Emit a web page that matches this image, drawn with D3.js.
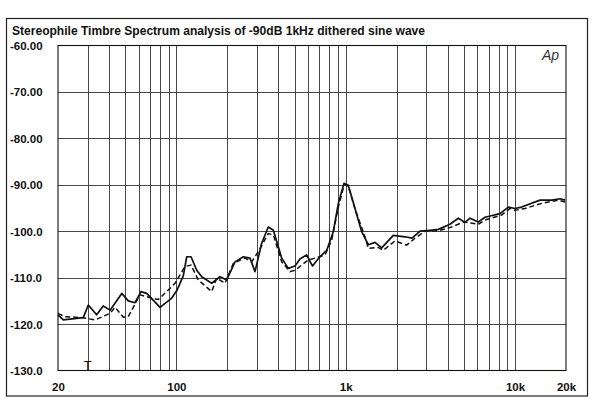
<!DOCTYPE html>
<html>
<head>
<meta charset="utf-8">
<script src="https://cdn.jsdelivr.net/npm/d3@7"></script>
<style>
  body { margin: 0; background: #fff; }
  svg { display: block; }
  .lbl { font-family: "Liberation Sans", Arial, sans-serif; font-weight: bold; fill: #111; }
  .grid line { stroke: #333; stroke-width: 0.9; }
</style>
</head>
<body>
<script>
// solid trace (frequency Hz, level dB)
var solidFreq = [20, 21.5, 28.2, 30.2, 33.8, 37.0, 40.6, 47.6, 52.0, 57.0, 61.8, 66.8, 80.1, 93.9, 100.9,
  109.9, 115.1, 122.1, 131.9, 141.2, 161.7, 181.0, 198.3, 222, 248.6, 272.2, 291.4, 319, 349, 374,
  419, 458, 502, 537, 588, 637, 696, 773, 845, 905, 977, 1036, 1135, 1243, 1360, 1489, 1632,
  1910, 2240, 2464, 2746, 3146, 3524, 4130, 4624, 5066, 5422, 6070, 6650, 8154, 9126, 9998,
  10950, 14050, 16470, 18440, 19730];
var solidDb = [-118.0, -119.1, -118.6, -115.9, -118.0, -116.1, -117.0, -113.4, -115.0, -115.4, -113.0, -113.4, -116.4, -114.4, -112.7,
  -109.6, -105.5, -105.5, -108.4, -109.8, -111.2, -109.8, -110.5, -106.6, -105.5, -105.8, -108.7, -102.6, -99.1, -99.8,
  -105.8, -108.0, -107.5, -106.0, -105.1, -107.5, -105.7, -104.1, -100.1, -94.0, -89.7, -90.1, -95.1, -100.1, -102.9, -102.4, -103.6,
  -100.9, -101.2, -101.5, -100.0, -99.8, -99.6, -98.5, -97.2, -98.1, -97.2, -98.0, -97.0, -96.2, -94.8, -95.1,
  -94.8, -93.3, -93.3, -93.0, -93.3];

// dashed trace
var dashFreq = [20, 22.0, 27.6, 33.1, 40.6, 43.4, 48.6, 52.0, 61.0, 71.5, 78.2, 87.7, 98.2, 112.5, 122.1,
  134.8, 161.7, 173.1, 193.8, 217, 254.4, 278.6, 304.8, 349, 374, 419, 469, 502, 601, 659, 755, 827,
  905, 981, 1036, 1135, 1300, 1360, 1558, 1668, 1955, 2292, 2566, 2942, 3524, 4227, 4950, 6070,
  6650, 8344, 9340, 9998, 11450, 14370, 18020, 19730];
var dashDb = [-117.7, -118.4, -118.6, -119.1, -117.7, -116.4, -118.5, -118.4, -113.7, -114.4, -114.7, -113.0, -111.2, -107.6, -107.3,
  -110.5, -113.0, -110.1, -111.2, -106.9, -105.8, -106.6, -104.4, -100.5, -100.8, -106.6, -108.7, -108.4, -106.2, -105.8, -105.1, -101.9,
  -94.8, -89.9, -90.3, -95.2, -101.2, -103.7, -103.5, -104.1, -102.1, -103.0, -101.5, -100.0, -99.9, -99.1, -98.0, -98.5,
  -97.6, -96.5, -95.1, -95.5, -95.1, -94.0, -93.3, -93.7];

var yTicks = [-60, -70, -80, -90, -100, -110, -120, -130];
var yTickLabels = ["-60.00", "-70.00", "-80.00", "-90.00", "-100.0", "-110.0", "-120.0", "-130.0"];
var xTicks = [20, 100, 1000, 10000, 20000];
var xTickLabels = ["20", "100", "1k", "10k", "20k"];
var xGrid = [30, 40, 50, 60, 70, 80, 90, 100, 200, 300, 400, 500, 600, 700, 800, 900, 1000,
  2000, 3000, 4000, 5000, 6000, 7000, 8000, 9000, 10000];

var width = 600, height = 406;
var plotL = 58, plotR = 566, plotT = 45.5, plotB = 370.5;

var svg = d3.select('body').append('svg')
    .attr('width', width)
    .attr('height', height);

// outer frame
svg.append('rect')
    .attr('x', 6.5).attr('y', 18.5)
    .attr('width', 581).attr('height', 377.5)
    .attr('fill', 'none').attr('stroke', '#222').attr('stroke-width', 1.2);

svg.append('text')
    .attr('class', 'lbl')
    .attr('x', 12).attr('y', 35)
    .attr('textLength', 413)
    .attr('lengthAdjust', 'spacingAndGlyphs')
    .style('font-size', '13px')
    .text('Stereophile  Timbre Spectrum analysis of -90dB 1kHz dithered sine wave');

var x = d3.scaleLog().domain([20, 20000]).range([plotL, plotR]);
var y = d3.scaleLinear().domain([-130, -60]).range([plotB, plotT]);

// grid
var grid = svg.append('g').attr('class', 'grid');
grid.selectAll('.vg').data(xGrid).enter().append('line')
    .attr('x1', function(d) { return Math.round(x(d)) + 0.5; })
    .attr('x2', function(d) { return Math.round(x(d)) + 0.5; })
    .attr('y1', plotT).attr('y2', plotB);
grid.selectAll('.hg').data(yTicks.slice(1, -1)).enter().append('line')
    .attr('x1', plotL).attr('x2', plotR)
    .attr('y1', function(d) { return Math.round(y(d)) + 0.5; })
    .attr('y2', function(d) { return Math.round(y(d)) + 0.5; });

svg.append('rect')
    .attr('x', plotL).attr('y', plotT)
    .attr('width', plotR - plotL).attr('height', plotB - plotT)
    .attr('fill', 'none').attr('stroke', '#111').attr('stroke-width', 1.1);

// axes (labels only)
var yAxis = svg.append('g')
    .call(d3.axisLeft(y).tickValues(yTicks).tickSize(0)
      .tickFormat(function(d, i) { return yTickLabels[i]; }));
yAxis.select('.domain').remove();
yAxis.selectAll('text')
    .attr('class', 'lbl')
    .attr('x', 10).attr('dy', '0.35em')
    .attr('text-anchor', 'start')
    .style('font-size', '11.5px');

var xAxis = svg.append('g')
    .attr('transform', 'translate(0,' + plotB + ')')
    .call(d3.axisBottom(x).tickValues(xTicks).tickSize(0)
      .tickFormat(function(d, i) { return xTickLabels[i]; }));
xAxis.select('.domain').remove();
xAxis.selectAll('text')
    .attr('class', 'lbl')
    .attr('y', 20.5).attr('dy', 0)
    .style('font-size', '11.5px');

// traces
var line = d3.line()
    .x(function(d) { return x(d[0]); })
    .y(function(d) { return y(d[1]); });

svg.append('path')
    .datum(d3.zip(dashFreq, dashDb))
    .attr('d', line)
    .attr('fill', 'none')
    .attr('stroke', '#111')
    .attr('stroke-width', 1.5)
    .attr('stroke-dasharray', '5,3');

svg.append('path')
    .datum(d3.zip(solidFreq, solidDb))
    .attr('d', line)
    .attr('fill', 'none')
    .attr('stroke', '#111')
    .attr('stroke-width', 1.7)
    .attr('stroke-linejoin', 'round');

// trigger marker and logo
svg.append('text')
    .attr('x', x(30)).attr('y', plotB - 1)
    .attr('text-anchor', 'middle')
    .style('font-family', '"Liberation Sans", sans-serif')
    .style('font-size', '13px')
    .attr('fill', '#111')
    .text('T');

svg.append('text')
    .attr('x', 559).attr('y', 59.5)
    .attr('text-anchor', 'end')
    .style('font-family', '"Liberation Sans", sans-serif')
    .style('font-style', 'italic')
    .style('font-size', '14px')
    .attr('fill', '#333')
    .text('Ap');
</script>
</body>
</html>
